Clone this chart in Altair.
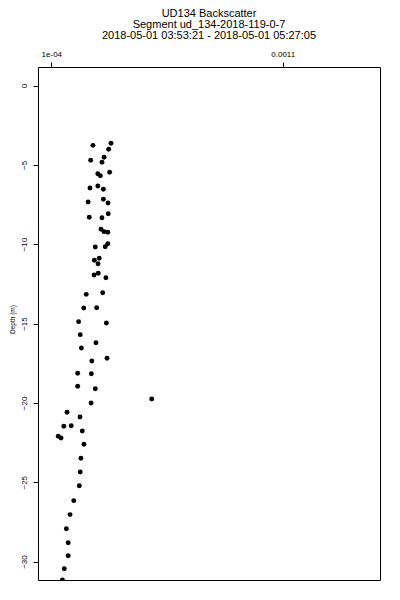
import altair as alt
import pandas as pd

title_lines = [
    "UD134 Backscatter",
    "Segment ud_134-2018-119-0-7",
    "2018-05-01 03:53:21 - 2018-05-01 05:27:05",
]

# backscatter values (units of 1e-4)
backscatter_e4 = [
    3.58, 2.80, 3.48, 3.28, 2.70, 3.19, 3.52, 3.01, 3.12, 2.67,
    3.01, 3.25, 2.59, 3.25, 3.45, 2.64, 3.19, 3.46, 3.15, 3.28,
    3.44, 2.90, 3.33, 3.44, 2.86, 3.07, 3.02, 2.85, 3.03, 3.36,
    2.51, 3.22, 2.40, 2.96, 2.18, 3.38, 2.25, 2.93, 2.30, 2.75,
    3.41, 2.14, 2.73, 2.14, 2.90, 5.34, 2.72, 1.68, 2.24, 1.54,
    1.86, 2.34, 1.30, 1.42, 2.41, 2.28, 2.25, 2.21, 1.97, 1.81,
    1.65, 1.73, 1.73, 1.56, 1.48,
]
depth = [
    -3.64, -3.77, -4.02, -4.52, -4.71, -4.84, -5.47, -5.56, -5.68, -6.46,
    -6.33, -6.54, -7.34, -7.17, -7.40, -8.30, -8.33, -8.08, -9.06, -9.21,
    -9.25, -10.18, -10.16, -9.97, -11.01, -10.89, -11.23, -11.94, -11.83, -12.11,
    -13.16, -13.06, -14.02, -14.00, -14.88, -14.97, -15.70, -16.21, -16.54, -17.36,
    -17.19, -18.13, -18.16, -18.95, -19.11, -19.75, -20.01, -20.59, -20.89, -21.47,
    -21.44, -21.77, -22.10, -22.21, -22.61, -23.49, -24.35, -25.22, -26.16, -27.04,
    -27.93, -28.81, -29.63, -30.45, -31.16,
]
x_ticks = [0.0001, 0.0011]
y_ticks = [0, -5, -10, -15, -20, -25, -30]

df = pd.DataFrame({"bs": [v * 1e-4 for v in backscatter_e4], "depth": depth})

FONT = "Liberation Sans"

chart = (
    alt.Chart(df)
    .mark_circle(size=24, color="black", opacity=1, clip=True)
    .encode(
        x=alt.X(
            "bs:Q",
            scale=alt.Scale(domain=[0.0000425, 0.0015205], nice=False, zero=False),
            axis=alt.Axis(
                orient="top",
                values=x_ticks,
                labelExpr="datum.value < 0.0005 ? '1e-04' : '0.0011'",
                title=None,
                grid=False,
                domain=False,
                tickSize=5,
                tickColor="#000000",
                tickWidth=1,
                labelPadding=6,
                labelBaseline="alphabetic",
                labelFont=FONT,
                labelFontSize=8,
                labelColor="#000000",
            ),
        ),
        y=alt.Y(
            "depth:Q",
            scale=alt.Scale(domain=[-31.16, 1.166], nice=False, zero=False),
            axis=alt.Axis(
                values=y_ticks,
                title="Depth (m)",
                grid=False,
                domain=False,
                tickSize=5,
                tickColor="#000000",
                tickWidth=1,
                labelAngle=270,
                labelAlign="center",
                labelBaseline="alphabetic",
                labelPadding=7,
                labelFont=FONT,
                labelFontSize=8,
                labelColor="#000000",
                titleFont=FONT,
                titleFontSize=6.5,
                titleFontWeight="normal",
                titleColor="#000000",
                titleAngle=270,
                titleAlign="center",
                titleBaseline="middle",
                titleX=-26,
                titleY=252,
            ),
        ),
    )
    .properties(
        width=342,
        height=513,
        background="white",
        view=alt.ViewBackground(stroke="#000000", strokeWidth=1, fill="white"),
        title=alt.TitleParams(
            text=title_lines,
            font=FONT,
            fontSize=11,
            fontWeight="normal",
            color="#000000",
            lineHeight=11,
            anchor="middle",
            frame="group",
            offset=9,
        ),
        autosize=alt.AutoSizeParams(type="none"),
        padding={"left": 30, "top": 59, "right": 4, "bottom": 4},
    )
    .configure_view(stroke="#000000", strokeWidth=1, fill="white")
)

chart.save("out.html", embed_options={"renderer": "svg", "actions": False})
